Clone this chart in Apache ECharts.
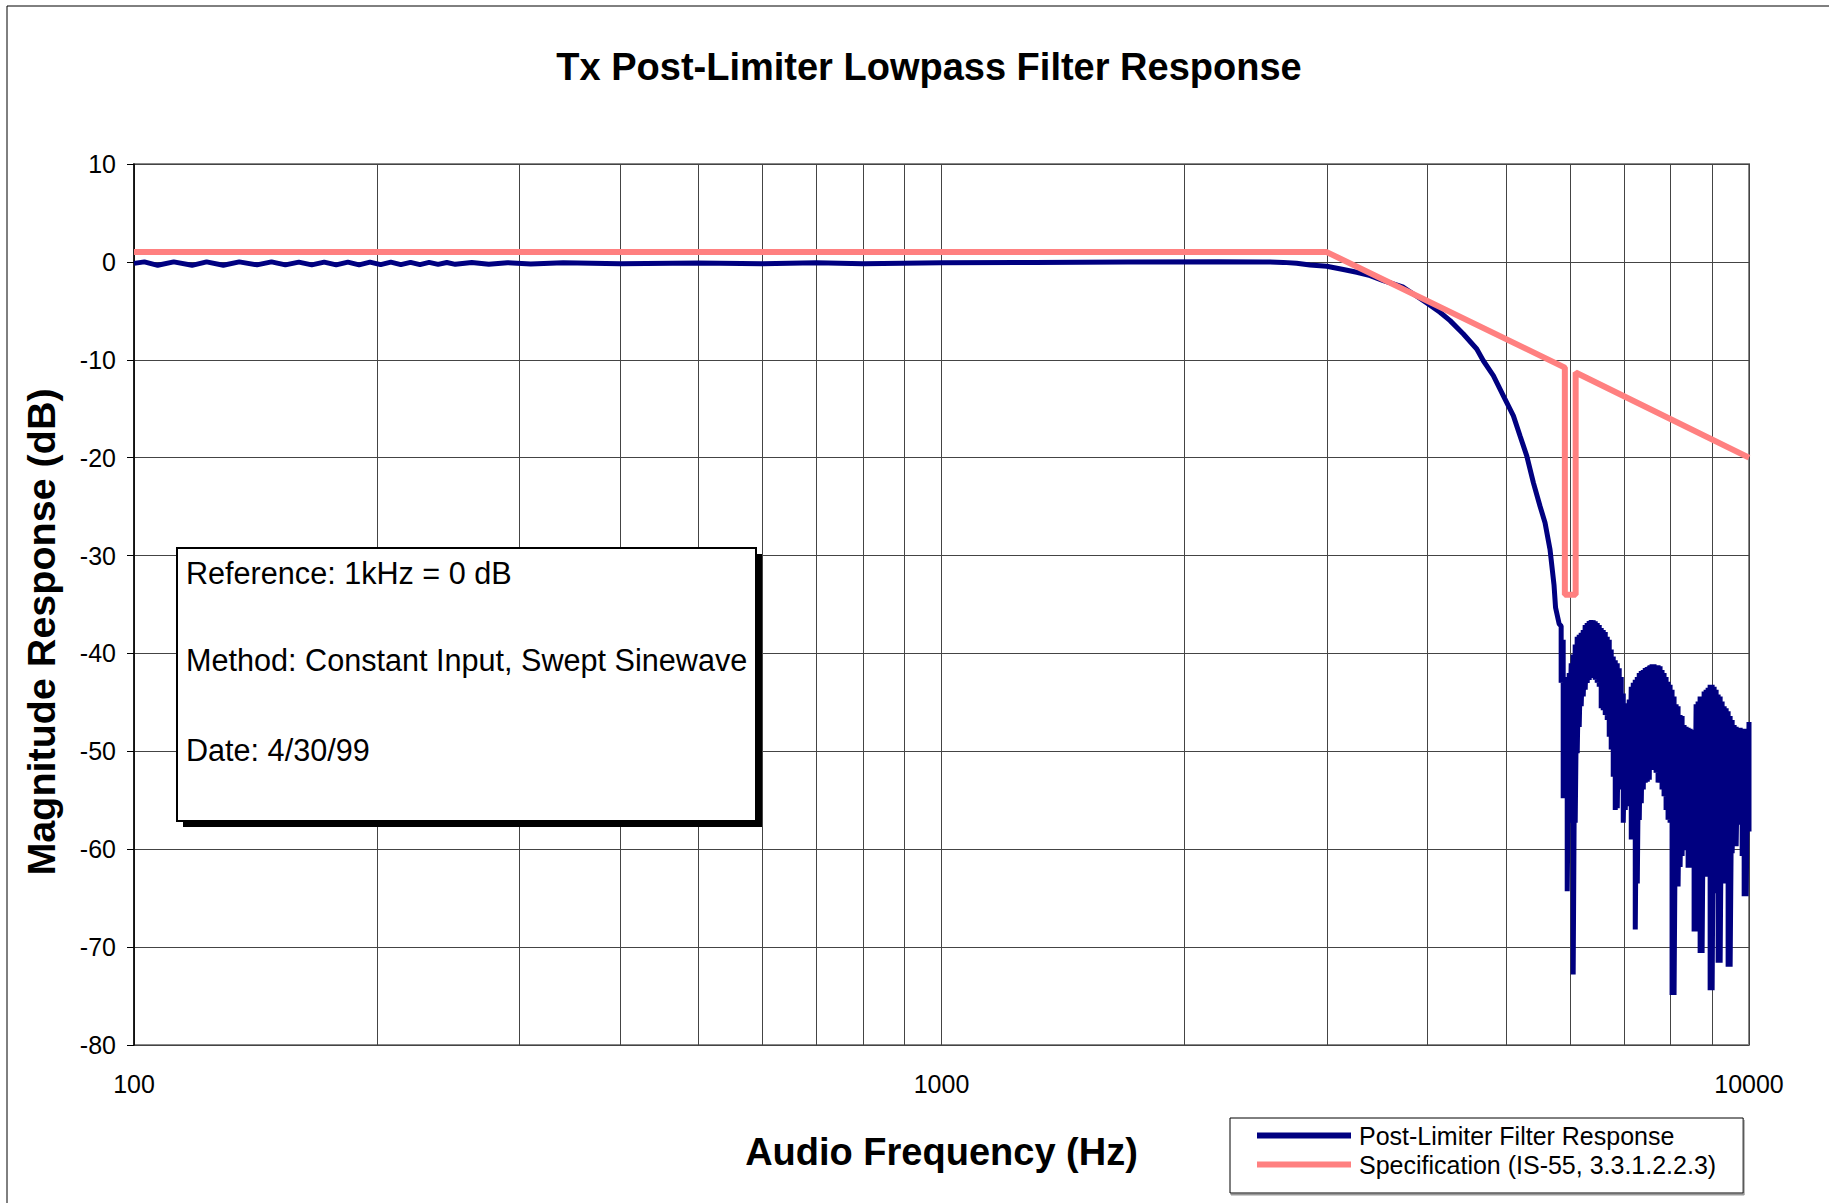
<!DOCTYPE html>
<html>
<head>
<meta charset="utf-8">
<title>Tx Post-Limiter Lowpass Filter Response</title>
<script src="https://cdn.jsdelivr.net/npm/echarts@6/dist/echarts.min.js"></script>
<style>
html, body { margin: 0; padding: 0; background: #fff; }
#container { width: 1829px; height: 1203px; }
</style>
</head>
<body>
<div id="container"></div>
<script>
var FONT = 'Liberation Sans, Arial, sans-serif';

// measured response, passband + rolloff: [Hz, dB]
var passband = [
    [100, -0.15], [103, 0], [107, -0.35], [112, 0], [118, -0.35], [123, 0], [129, -0.35],
    [135, 0], [142, -0.3], [148, 0], [154, -0.3], [160, -0.02], [166, -0.3], [172, -0.02],
    [178, -0.3], [184, -0.02], [190, -0.3], [196, -0.03], [202, -0.28], [208, -0.03],
    [214, -0.28], [220, -0.05], [226, -0.28], [232, -0.05], [238, -0.26], [244, -0.06],
    [250, -0.25], [262, -0.07], [275, -0.24], [290, -0.08], [310, -0.22], [340, -0.1],
    [400, -0.2], [500, -0.12], [600, -0.2], [700, -0.1], [800, -0.18], [1000, -0.1],
    [1300, -0.05], [1700, 0], [2200, 0.02], [2500, 0], [2650, -0.05],
    [2753, -0.14], [2860, -0.31], [2999, -0.44], [3145, -0.78], [3268, -1.06], [3395, -1.4],
    [3525, -1.91], [3732, -2.59], [3990, -4.2], [4143, -5.15], [4264, -6.0], [4429, -7.37],
    [4601, -8.9], [4688, -10.1], [4824, -11.63], [4964, -13.68], [5108, -15.73],
    [5206, -17.78], [5306, -19.82], [5407, -22.55], [5510, -24.94], [5590, -26.65],
    [5670, -29.38], [5735, -33.0], [5760, -35.3], [5820, -37.0]
];

// stopband sweep, fast ripple: [Hz, upper dB, lower dB]
var stopband = [
    [5853, -37.2, -43.0], [5887, -38.6, -54.8], [5921, -42.4, -47.1], [5955, -42.7, -64.3],
    [5989, -42.0, -50.2], [6023, -41.0, -57.3], [6057, -40.1, -72.8], [6092, -39.1, -57.3],
    [6127, -38.3, -50.2], [6162, -38.1, -47.5], [6197, -37.9, -45.4], [6233, -37.6, -44.4],
    [6268, -37.1, -43.7], [6304, -36.9, -43.0], [6340, -36.7, -42.7], [6377, -36.6, -42.4],
    [6413, -36.6, -42.5], [6450, -36.7, -42.7], [6487, -36.9, -43.0], [6524, -37.1, -43.4],
    [6561, -37.4, -45.6], [6599, -37.6, -45.8], [6637, -37.8, -46.3], [6675, -38.3, -46.8],
    [6713, -38.6, -48.5], [6751, -39.6, -49.8], [6790, -40.3, -52.6], [6829, -40.7, -56.0],
    [6868, -41.0, -55.8], [6907, -41.5, -53.9], [6947, -42.4, -49.8], [6987, -44.1, -57.3],
    [7027, -45.1, -56.0], [7067, -46.1, -54.6], [7107, -44.7, -55.6], [7148, -43.4, -59.0],
    [7189, -43.0, -57.3], [7230, -42.7, -68.2], [7272, -42.4, -63.5], [7313, -42.0, -57.0],
    [7355, -41.8, -55.3], [7397, -41.7, -53.9], [7439, -41.5, -53.2], [7482, -41.4, -53.1],
    [7525, -41.3, -52.9], [7542, -41.2, -51.9], [7585, -41.1, -51.9], [7628, -41.1, -51.9],
    [7672, -41.2, -52.2], [7716, -41.2, -53.2], [7760, -41.3, -53.2], [7804, -41.7, -53.9],
    [7849, -42.0, -54.6], [7894, -42.4, -56.0], [7939, -42.9, -57.0], [7985, -43.2, -57.3],
    [8030, -43.7, -74.9], [8076, -44.4, -74.9], [8123, -45.2, -61.8], [8169, -45.4, -63.8],
    [8216, -46.3, -61.8], [8263, -46.4, -60.7], [8310, -47.3, -60.1], [8358, -47.5, -57.0],
    [8406, -47.6, -61.9], [8454, -47.7, -61.9], [8502, -47.8, -57.0], [8551, -47.8, -68.4],
    [8600, -45.2, -68.4], [8649, -44.9, -62.8], [8699, -44.4, -70.6], [8748, -44.4, -70.6],
    [8799, -43.9, -61.8], [8849, -43.7, -62.8], [8900, -43.5, -61.8], [8951, -43.2, -74.4],
    [9002, -43.2, -74.4], [9053, -43.4, -64.5], [9105, -43.7, -63.1], [9157, -44.2, -71.6],
    [9210, -44.4, -71.6], [9262, -44.9, -63.3], [9316, -45.4, -63.5], [9369, -45.6, -62.4],
    [9422, -45.9, -72.0], [9476, -46.4, -72.0], [9531, -46.8, -60.4], [9585, -47.3, -59.7],
    [9640, -47.5, -59.7], [9695, -47.6, -57.5], [9751, -47.6, -57.5], [9807, -47.7, -60.7],
    [9863, -47.7, -64.8], [9919, -47.8, -64.8], [9976, -47.8, -57.5], [10000, -47.0, -58.2]
];

// IS-55 specification mask
var specFreq = [100, 3000, 5915, 5915, 6100, 6100, 10000];
var specDb = [1, 1, -10.8, -34, -34, -11.3, -20];

// log grid lines between decades
var minorFreqs = [200, 300, 400, 500, 600, 700, 800, 900, 2000, 3000, 4000, 5000, 6000, 7000, 8000, 9000];

var notes = ['Reference: 1kHz = 0 dB', 'Method: Constant Input, Swept Sinewave', 'Date: 4/30/99'];

var responseData = passband.slice();
stopband.forEach(function (r) {
    responseData.push([r[0], r[1]]);
    responseData.push([r[0], r[2]]);
});
var specData = specFreq.map(function (f, i) { return [f, specDb[i]]; });

var dom = document.getElementById('container');
var myChart = echarts.init(dom, null, { renderer: 'svg' });

var noteText = notes.map(function (t, i) {
    return {
        type: 'text', x: 186, y: [573, 660, 750][i], z: 102, silent: true,
        style: { text: t, fontSize: 30.6, fontFamily: FONT, fill: '#000', verticalAlign: 'middle', textVerticalAlign: 'middle' }
    };
});

var option = {
    animation: false,
    backgroundColor: '#fff',
    title: {
        text: 'Tx Post-Limiter Lowpass Filter Response',
        left: 924,
        top: 43,
        textAlign: 'center',
        textStyle: { fontFamily: FONT, fontSize: 38, fontWeight: 'bold', color: '#000' }
    },
    grid: {
        left: 134, right: 80, top: 164, bottom: 158,
        show: true, borderColor: '#888', borderWidth: 2, backgroundColor: 'transparent'
    },
    legend: {
        orient: 'vertical',
        left: 1230, top: 1118,
        padding: [5, 27, 16, 27],
        itemGap: 4, itemWidth: 94, itemHeight: 6,
        borderColor: '#000', borderWidth: 1, backgroundColor: '#fff',
        shadowColor: '#999', shadowOffsetY: 2, shadowOffsetX: 1,
        textStyle: { fontFamily: FONT, fontSize: 25, color: '#000', padding: [0, 0, 0, 3] },
        data: [
            { name: 'Post-Limiter Filter Response', icon: 'rect' },
            { name: 'Specification (IS-55, 3.3.1.2.2.3)', icon: 'rect' }
        ]
    },
    xAxis: {
        type: 'log', logBase: 10, min: 100, max: 10000,
        name: 'Audio Frequency (Hz)', nameLocation: 'middle', nameGap: 88,
        nameTextStyle: { fontFamily: FONT, fontSize: 38, fontWeight: 'bold', color: '#000' },
        axisLine: { show: false, onZero: false },
        axisTick: { show: false },
        axisLabel: {
            margin: 26, fontFamily: FONT, fontSize: 25, color: '#000',
            formatter: function (v) { return String(Math.round(v)); }
        },
        splitLine: { show: true, lineStyle: { color: '#444', width: 1 } }
    },
    yAxis: {
        type: 'value', min: -80, max: 10, interval: 10,
        axisLine: { show: true, onZero: false, lineStyle: { color: '#000', width: 1.5 } },
        axisTick: { show: true, length: 7, lineStyle: { color: '#000' } },
        axisLabel: { margin: 18, fontFamily: FONT, fontSize: 25, color: '#000' },
        splitLine: { show: true, lineStyle: { color: '#444', width: 1 } }
    },
    graphic: [
        { type: 'rect', silent: true, z: -10, shape: { x: 7, y: 6, width: 1900, height: 1300 }, style: { fill: 'none', stroke: '#000', lineWidth: 1 } },
        { type: 'text', x: 41, y: 632, rotation: Math.PI / 2, silent: true,
          style: { text: 'Magnitude Response (dB)', fontSize: 39.5, fontWeight: 'bold', fontFamily: FONT, fill: '#000',
                   align: 'center', textAlign: 'center', verticalAlign: 'middle', textVerticalAlign: 'middle' } },
        { type: 'rect', silent: true, z: 100, shape: { x: 183, y: 554, width: 579, height: 273 }, style: { fill: '#000' } },
        { type: 'rect', silent: true, z: 101, shape: { x: 177, y: 548, width: 579, height: 273 }, style: { fill: '#fff', stroke: '#000', lineWidth: 2 } }
    ].concat(noteText),
    series: [{
        type: 'line', data: [], z: 1, silent: true,
        markLine: {
            silent: true, symbol: 'none', z: 1, animation: false,
            label: { show: false }, emphasis: { disabled: true },
            lineStyle: { color: '#444', width: 1, type: 'solid' },
            data: minorFreqs.map(function (f) { return { xAxis: f }; })
        }
    }, {
        name: 'Post-Limiter Filter Response',
        type: 'line', data: responseData, z: 3,
        showSymbol: false, symbol: 'none', silent: true,
        color: '#000080',
        lineStyle: { color: '#000080', width: 5 }
    }, {
        name: 'Specification (IS-55, 3.3.1.2.2.3)',
        type: 'line', data: specData, z: 4,
        showSymbol: false, symbol: 'none', silent: true,
        color: '#FF8080',
        lineStyle: { color: '#FF8080', width: 6 }
    }]
};

if (option && typeof option === 'object') {
    myChart.setOption(option, true);
}
</script>
</body>
</html>
